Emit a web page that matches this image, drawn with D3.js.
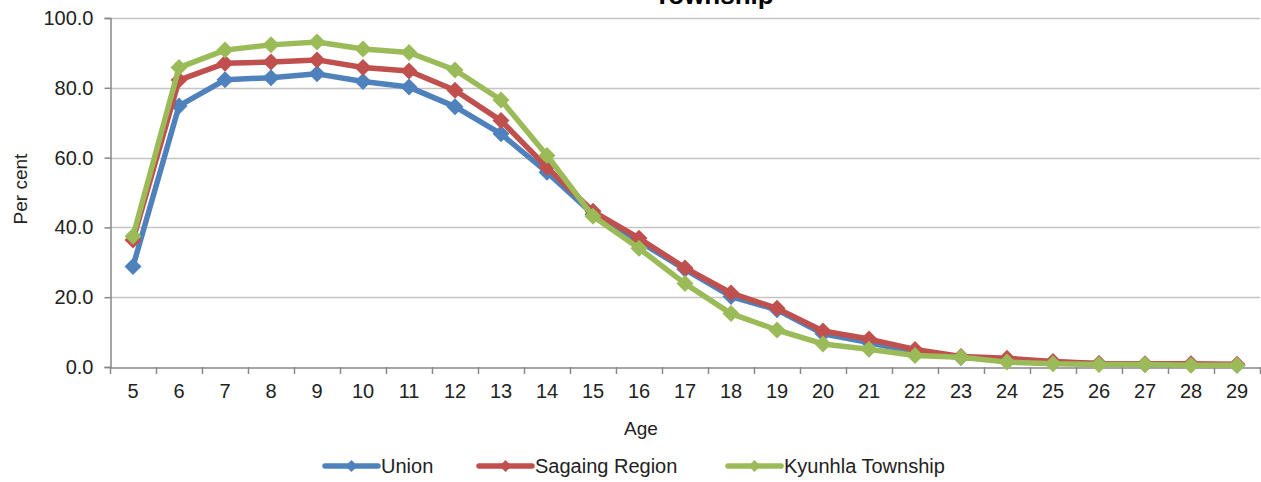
<!DOCTYPE html>
<html>
<head>
<meta charset="utf-8">
<script src="https://cdn.jsdelivr.net/npm/d3@7"></script>
<style>
  html, body { margin: 0; padding: 0; background: #fff; }
  svg { display: block; font-family: "Liberation Sans", Arial, sans-serif; }
</style>
</head>
<body>
<svg id="chart" width="1261" height="482"></svg>
<script>
const ages = [5,6,7,8,9,10,11,12,13,14,15,16,17,18,19,20,21,22,23,24,25,26,27,28,29];
const union = [28.8,74.8,82.3,82.9,84.0,81.8,80.2,74.6,66.8,55.8,43.8,36.0,28.0,20.2,16.4,9.5,7.0,4.2,2.7,2.0,1.4,0.9,0.7,0.7,0.5];
const sagaing = [36.4,82.2,87.0,87.4,88.0,85.8,84.8,79.3,70.6,57.2,44.6,36.9,28.4,21.2,16.8,10.3,8.0,5.0,3.0,2.5,1.6,1.0,0.9,0.9,0.8];
const kyunhla = [37.5,85.8,90.8,92.3,93.1,91.1,90.1,85.1,76.5,60.6,43.2,34.0,23.9,15.3,10.6,6.6,5.1,3.3,2.8,1.4,0.9,0.7,0.7,0.5,0.5];
const yTicks = [0,20,40,60,80,100];
const seriesNames = ["Union","Sagaing Region","Kyunhla Township"];
const seriesColors = ["#4F81BD","#C0504D","#9BBB59"];

const series = [union, sagaing, kyunhla].map((vals, i) => ({
  name: seriesNames[i], color: seriesColors[i],
  values: ages.map((a, j) => ({age: a, v: vals[j]}))
}));

const svg = d3.select("#chart");
const mLeft = 110, mRight = 1260, mTop = 18, mBottom = 367;
const txt = "#222";

const x = d3.scaleBand().domain(ages).range([mLeft, mRight]).paddingInner(0).paddingOuter(0);
const y = d3.scaleLinear().domain([0, 100]).range([mBottom, mTop]);

// title (clipped at top, as in the source)
svg.append("text").attr("x", 714).attr("y", 4).attr("text-anchor", "middle")
  .attr("font-size", 26).attr("font-weight", "bold").attr("fill", "#000").text("Township");

// gridlines
svg.append("g").selectAll("line").data(yTicks.filter(d => d > 0)).join("line")
  .attr("x1", mLeft).attr("x2", mRight)
  .attr("y1", d => Math.round(y(d)) + 0.5).attr("y2", d => Math.round(y(d)) + 0.5)
  .attr("stroke", "#c4c4c4").attr("stroke-width", 1.5);

// y axis
const yAxis = svg.append("g").attr("transform", `translate(${mLeft + 0.5},0)`)
  .call(d3.axisLeft(y).tickValues(yTicks).tickFormat(d3.format(".1f")).tickSize(6).tickPadding(11));
yAxis.select(".domain").attr("stroke", "#888").attr("stroke-width", 1.5);
yAxis.selectAll(".tick line").attr("stroke", "#888").attr("stroke-width", 1.5);
yAxis.selectAll("text").attr("font-size", 20).attr("fill", txt)
  .attr("font-family", "Liberation Sans, Arial, sans-serif");

// x axis
const xAxis = svg.append("g").attr("transform", `translate(0,${mBottom + 0.5})`)
  .call(d3.axisBottom(x).tickSize(0).tickPadding(16));
xAxis.select(".domain").attr("stroke", "#888").attr("stroke-width", 1.5);
xAxis.selectAll("text").attr("font-size", 20).attr("fill", txt)
  .attr("font-family", "Liberation Sans, Arial, sans-serif");
// boundary ticks
const bounds = ages.map(a => x(a)).concat([x(ages[ages.length - 1]) + x.bandwidth()]);
svg.append("g").selectAll("line").data(bounds).join("line")
  .attr("x1", d => Math.round(d) + 0.5).attr("x2", d => Math.round(d) + 0.5)
  .attr("y1", mBottom).attr("y2", mBottom + 7)
  .attr("stroke", "#888").attr("stroke-width", 1.5);

// axis titles
svg.append("text").attr("x", 641).attr("y", 435).attr("text-anchor", "middle")
  .attr("font-size", 19).attr("fill", txt).text("Age");
svg.append("text").attr("transform", "translate(27,189) rotate(-90)").attr("text-anchor", "middle")
  .attr("font-size", 19).attr("fill", txt).text("Per cent");

// lines
const line = d3.line().x(d => x(d.age) + x.bandwidth() / 2).y(d => y(d.v));
const diamond = s => `M0,${-s}L${s},0L0,${s}L${-s},0Z`;

series.forEach(s => {
  const g = svg.append("g");
  g.append("path").datum(s.values).attr("d", line)
    .attr("fill", "none").attr("stroke", s.color).attr("stroke-width", 5.5)
    .attr("stroke-linejoin", "round");
  g.selectAll("path.m").data(s.values).join("path").attr("class", "m")
    .attr("transform", d => `translate(${x(d.age) + x.bandwidth() / 2},${y(d.v)})`)
    .attr("d", diamond(8.5)).attr("fill", s.color);
});

// legend
const legX = [325, 479, 728];
const legend = svg.append("g");
series.forEach((s, i) => {
  const lx = legX[i], ly = 466;
  legend.append("line").attr("x1", lx).attr("x2", lx + 53).attr("y1", ly).attr("y2", ly)
    .attr("stroke", s.color).attr("stroke-width", 5.5).attr("stroke-linecap", "round");
  legend.append("path").attr("transform", `translate(${lx + 26.5},${ly})`).attr("d", diamond(6)).attr("fill", s.color);
  legend.append("text").attr("x", lx + 56).attr("y", ly + 7).attr("font-size", 20)
    .attr("fill", txt).text(s.name);
});
</script>
</body>
</html>
